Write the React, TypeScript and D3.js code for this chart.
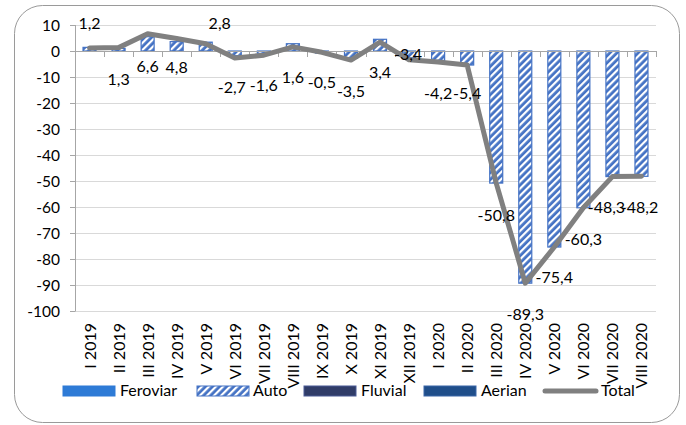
import React from "react";
import * as d3 from "d3";

const categories = [
  "I 2019", "II 2019", "III 2019", "IV 2019", "V 2019", "VI 2019", "VII 2019",
  "VIII 2019", "IX 2019", "X 2019", "XI 2019", "XII 2019", "I 2020", "II 2020",
  "III 2020", "IV 2020", "V 2020", "VI 2020", "VII 2020", "VIII 2020",
];
const autoValues = [1.4, 1.0, 5.5, 3.6, 3.4, -1.8, -0.9, 2.8, -0.8, -2.8, 4.5, -2.6, -3.6, -5.4, -50.8, -89.3, -75.4, -60.3, -48.3, -48.2];
const totalValues = [1.2, 1.3, 6.6, 4.8, 2.8, -2.7, -1.6, 1.6, -0.5, -3.5, 3.4, -3.4, -4.2, -5.4, -50.8, -89.3, -75.4, -60.3, -48.3, -48.2];
const yTicks = [10, 0, -10, -20, -30, -40, -50, -60, -70, -80, -90, -100];
const legendNames = ["Feroviar", "Auto", "Fluvial", "Aerian", "Total"];

// label placement (pixel offsets relative to the point), style only
const labelDy = [-19, 37, 38, 34, -15, 35, 36, 36, 36, 37, 36, 0, 37, 34, 38, 37, 36, 37, 36, 37];
const labelDx = [0, 0, 0, 0, 14, -3, 0, 0, 0, 0, 0, -1, 0, 0, 0, 0, 0, 0, -6, -2];

const W = 686, H = 425;
const left = 75, right = 656, top = 25, bottom = 311;
const FONT = "Lato, 'Noto Sans', sans-serif";

export default function App() {
  const x = d3.scaleBand<string>().domain(categories).range([left, right]).paddingInner(0.55).paddingOuter(0.275);
  const xc = (i: number) => left + ((right - left) / categories.length) * (i + 0.5);
  const y = d3.scaleLinear().domain([-100, 10]).range([bottom, top]);
  const bw = 13;
  const step = (right - left) / categories.length;
  const line = d3.line<number>().x((_, i) => xc(i)).y((v) => y(v));

  const legendItems = [
    { name: legendNames[0], sx: 63, tx: 120, kind: "solid", fill: "#2E7BD6", stroke: "#2E7BD6" },
    { name: legendNames[1], sx: 197, tx: 253, kind: "hatch", fill: "url(#hatch)", stroke: "#4472C4" },
    { name: legendNames[2], sx: 304, tx: 361, kind: "solid", fill: "#303C68", stroke: "#4A5A95" },
    { name: legendNames[3], sx: 424, tx: 481, kind: "solid", fill: "#1F4E8A", stroke: "#3A66A8" },
    { name: legendNames[4], sx: 543, tx: 601, kind: "line", fill: "none", stroke: "#808080" },
  ];

  return (
    <svg width={W} height={H} style={{ position: "absolute", left: 0, top: 0, background: "#fff" }} fontFamily={FONT}>
      <defs>
        <pattern id="hatch" patternUnits="userSpaceOnUse" width="5" height="5" patternTransform="rotate(45)">
          <rect width="5" height="5" fill="#4472C4" />
          <rect x="0" y="0" width="2.2" height="5" fill="#ffffff" />
        </pattern>
      </defs>
      <rect x={14.5} y={5.5} width={665} height={417} rx={28} ry={28} fill="#fff" stroke="#9a9a9a" strokeWidth={1} />

      {/* gridlines */}
      {yTicks.map((t) => (
        <line key={"g" + t} x1={left} x2={right} y1={Math.round(y(t)) + 0.5} y2={Math.round(y(t)) + 0.5} stroke="#d9d9d9" strokeWidth={1} />
      ))}

      {/* y axis */}
      <line x1={left + 0.5} x2={left + 0.5} y1={top} y2={bottom + 0.5} stroke="#a6a6a6" strokeWidth={1} />
      {yTicks.map((t) => (
        <g key={"yt" + t}>
          <line x1={left - 5} x2={left} y1={Math.round(y(t)) + 0.5} y2={Math.round(y(t)) + 0.5} stroke="#a6a6a6" />
          <text x={60} y={y(t)} dy="0.36em" textAnchor="end" fontSize={15.5} fill="#000">{t}</text>
        </g>
      ))}

      {/* bars */}
      {autoValues.map((v, i) => {
        const y0 = y(0), y1 = y(v);
        return (
          <rect key={"b" + i} x={xc(i) - bw / 2} y={Math.min(y0, y1)} width={bw} height={Math.abs(y1 - y0)}
            fill="url(#hatch)" stroke="#4472C4" strokeWidth={1.2} />
        );
      })}

      {/* x axis at 0 */}
      <line x1={left} x2={right} y1={Math.round(y(0)) + 0.5} y2={Math.round(y(0)) + 0.5} stroke="#a6a6a6" strokeWidth={1} />
      {d3.range(categories.length + 1).map((i) => (
        <line key={"xt" + i} x1={Math.round(left + step * i) + 0.5} x2={Math.round(left + step * i) + 0.5}
          y1={y(0)} y2={y(0) + 6} stroke="#a6a6a6" />
      ))}

      {/* total line */}
      <path d={line(totalValues) || ""} fill="none" stroke="#808080" strokeWidth={5} strokeLinejoin="round" strokeLinecap="round" />

      {/* data labels */}
      {totalValues.map((v, i) => (
        <text key={"l" + i} x={xc(i) + labelDx[i]} y={y(v) + labelDy[i]} textAnchor="middle" fontSize={16} fill="#000">
          {String(v).replace(".", ",")}
        </text>
      ))}

      {/* x labels */}
      {categories.map((c, i) => (
        <text key={"xl" + i} transform={`translate(${xc(i) + 6},323) rotate(-90)`} textAnchor="end" fontSize={16} fill="#000">{c}</text>
      ))}

      {/* legend */}
      {legendItems.map((it) => (
        <g key={it.name}>
          {it.kind === "line" ? (
            <line x1={it.sx + 2} x2={it.sx + 53} y1={391} y2={391} stroke={it.stroke} strokeWidth={5} strokeLinecap="round" />
          ) : (
            <rect x={it.sx} y={386} width={52} height={10} fill={it.fill} stroke={it.stroke} strokeWidth={1} />
          )}
          <text x={it.tx} y={396} fontSize={16} fill="#000">{it.name}</text>
        </g>
      ))}
    </svg>
  );
}
